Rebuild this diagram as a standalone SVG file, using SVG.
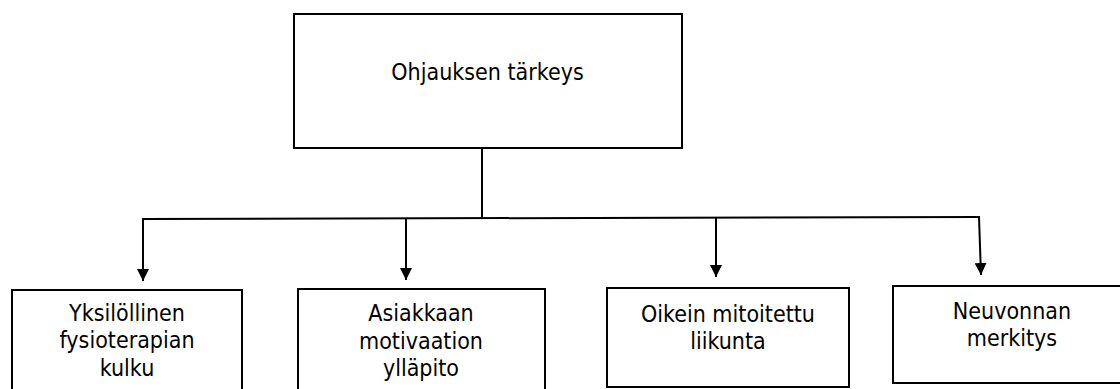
<svg xmlns="http://www.w3.org/2000/svg" width="1120" height="389" viewBox="0 0 1120 389">
  <style>
    .box { fill: #ffffff; stroke: #000000; stroke-width: 2; }
    .lbl { font-family: "DejaVu Sans Condensed", "DejaVu Sans", sans-serif; font-size: 23px; fill: #000000; text-anchor: middle; }
    .wire { fill: none; stroke: #000000; stroke-width: 2; }
  </style>
  <defs>
    <marker id="arrow" markerUnits="userSpaceOnUse" markerWidth="12" markerHeight="12" refX="12" refY="6" orient="auto">
      <path d="M0,0 L12,6 L0,12 z" fill="#000000"/>
    </marker>
  </defs>
  <rect width="1120" height="389" fill="#ffffff"/>

  <g id="connectors">
    <!-- trunk from the top box down to the distribution bar -->
    <line class="wire" x1="482" y1="148" x2="482" y2="218"/>
    <line class="wire" x1="142" y1="219" x2="980" y2="217"/>
    <!-- branches to the four sub-topics -->
    <line class="wire" x1="143" y1="219" x2="143" y2="281" marker-end="url(#arrow)"/>
    <line class="wire" x1="406" y1="218" x2="406" y2="280" marker-end="url(#arrow)"/>
    <line class="wire" x1="716" y1="218" x2="716" y2="277" marker-end="url(#arrow)"/>
    <line class="wire" x1="979" y1="217" x2="981" y2="275" marker-end="url(#arrow)"/>
  </g>

  <g id="ohjauksen-tarkeys">
    <rect class="box" x="294" y="14" width="388" height="134"/>
    <text class="lbl" x="487.5" y="80">Ohjauksen tärkeys</text>
  </g>

  <g id="yksilollinen">
    <rect class="box" x="12" y="290" width="230" height="110"/>
    <text class="lbl" x="127" y="321">Yksilöllinen</text>
    <text class="lbl" x="127" y="348">fysioterapian</text>
    <text class="lbl" x="127" y="376">kulku</text>
  </g>

  <g id="motivaatio">
    <rect class="box" x="298" y="289" width="247" height="110"/>
    <text class="lbl" x="421" y="321">Asiakkaan</text>
    <text class="lbl" x="421" y="349">motivaation</text>
    <text class="lbl" x="421" y="376">ylläpito</text>
  </g>

  <g id="liikunta">
    <rect class="box" x="607" y="288" width="242" height="99"/>
    <text class="lbl" x="728" y="322">Oikein mitoitettu</text>
    <text class="lbl" x="728" y="349">liikunta</text>
  </g>

  <g id="neuvonta">
    <rect class="box" x="893" y="286" width="240" height="97"/>
    <text class="lbl" x="1012" y="319">Neuvonnan</text>
    <text class="lbl" x="1012" y="346">merkitys</text>
  </g>
</svg>
